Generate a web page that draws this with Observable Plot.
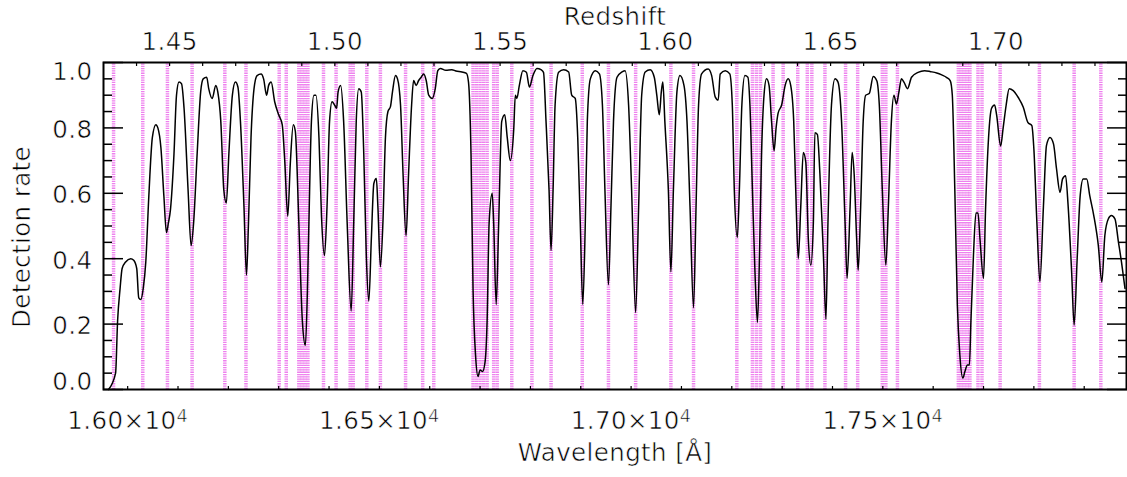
<!DOCTYPE html>
<html><head><meta charset="utf-8">
<script src="https://cdn.jsdelivr.net/npm/d3@7"></script>
<script src="https://cdn.jsdelivr.net/npm/@observablehq/plot@0.6"></script>
<style>
body{margin:0;background:#fff} svg{display:block}
#chart svg text{letter-spacing:0.4px; stroke:#fff; stroke-width:0.6px;}
</style>
</head><body><div id="chart"></div>
<script>
// Wavelength (Å) samples of the detection-rate curve
const wavelength = [
15962,15976,15980,15985,15989,15996,16006,16012,16018,16022,
16026,16031,16036,16042,16049,16056,16060,16066,16072,16077,
16081,16085,16092,16097,16102,16107,16112,16120,16126,16131,
16138,16145,16150,16157,16161,16168,16175,16179,16185,16191,
16196,16201,16208,16214,16219,16224,16231,16236,16240,16245,
16251,16257,16265,16270,16276,16280,16285,16292,16300,16307,
16312,16318,16323,16329,16333,16340,16347,16353,16357,16360,
16365,16370,16374,16380,16385,16391,16396,16401,16406,16411,
16415,16418,16423,16429,16436,16444,16449,16454,16459,16464,
16469,16474,16479,16484,16489,16494,16497,16502,16507,16512,
16517,16522,16526,16532,16536,16542,16547,16553,16558,16564,
16568,16573,16578,16583,16588,16593,16598,16605,16611,16616,
16621,16632,16644,16652,16664,16673,16677,16682,16686,16691,
16696,16700,16705,16710,16714,16718,16724,16727,16732,16737,
16743,16749,16754,16760,16767,16770,16773,16778,16785,16792,
16798,16805,16813,16821,16826,16831,16837,16841,16845,16849,
16856,16866,16876,16882,16889,16894,16899,16904,16909,16913,
16919,16929,16937,16943,16948,16955,16960,16965,16972,16982,
16988,16995,17001,17009,17015,17021,17028,17038,17046,17051,
17056,17060,17063,17067,17074,17079,17084,17091,17097,17105,
17111,17117,17124,17129,17134,17140,17153,17160,17167,17173,
17177,17187,17196,17201,17205,17211,17215,17220,17226,17232,
17236,17241,17246,17251,17255,17259,17264,17269,17274,17279,
17284,17288,17292,17299,17306,17312,17317,17323,17327,17332,
17337,17342,17347,17352,17357,17362,17365,17370,17375,17382,
17387,17391,17398,17405,17411,17418,17425,17429,17435,17439,
17443,17448,17451,17456,17461,17466,17473,17481,17488,17493,
17499,17506,17511,17517,17522,17527,17532,17537,17542,17549,
17557,17570,17583,17595,17607,17617,17627,17634,17638,17643,
17648,17653,17659,17663,17668,17672,17675,17680,17685,17689,
17693,17700,17704,17710,17716,17722,17726,17734,17739,17745,
17751,17759,17769,17779,17788,17796,17800,17806,17812,17819,
17825,17832,17839,17845,17852,17857,17863,17868,17875,17880,
17886,17892,17898,17905,17911,17919,17928,17935,17941,17948,
17954,17961,17968,17974,17981];

// Detection rate at each wavelength sample
const detectionRate = [
0.00,0.05,0.21,0.31,0.37,0.39,0.40,0.395,0.37,0.28,
0.275,0.31,0.39,0.59,0.77,0.81,0.80,0.74,0.59,0.48,
0.51,0.55,0.72,0.90,0.94,0.935,0.86,0.61,0.44,0.51,
0.72,0.91,0.95,0.955,0.92,0.89,0.93,0.91,0.82,0.61,
0.57,0.72,0.90,0.94,0.925,0.82,0.56,0.35,0.51,0.77,
0.92,0.96,0.965,0.95,0.90,0.93,0.94,0.88,0.84,0.81,
0.70,0.53,0.69,0.81,0.79,0.51,0.21,0.135,0.30,0.51,
0.82,0.90,0.90,0.77,0.53,0.41,0.56,0.82,0.88,0.87,
0.86,0.91,0.93,0.82,0.51,0.24,0.51,0.82,0.92,0.91,
0.72,0.41,0.27,0.46,0.63,0.645,0.56,0.375,0.51,0.77,
0.85,0.865,0.91,0.96,0.95,0.87,0.66,0.47,0.66,0.87,
0.945,0.93,0.945,0.955,0.965,0.945,0.90,0.89,0.92,0.975,
0.982,0.976,0.978,0.974,0.971,0.967,0.94,0.72,0.31,0.105,
0.04,0.06,0.055,0.085,0.21,0.51,0.60,0.51,0.26,0.51,
0.82,0.84,0.77,0.70,0.80,0.90,0.89,0.93,0.975,0.97,
0.925,0.96,0.982,0.978,0.97,0.82,0.61,0.425,0.61,0.87,
0.97,0.978,0.971,0.90,0.89,0.77,0.51,0.26,0.51,0.82,
0.95,0.975,0.965,0.87,0.61,0.32,0.56,0.82,0.955,0.971,
0.975,0.87,0.61,0.235,0.56,0.90,0.971,0.978,0.955,0.90,
0.84,0.91,0.94,0.82,0.61,0.36,0.61,0.91,0.96,0.93,
0.82,0.56,0.25,0.56,0.87,0.965,0.98,0.96,0.895,0.885,
0.965,0.975,0.965,0.87,0.61,0.465,0.61,0.87,0.96,0.955,
0.87,0.61,0.36,0.205,0.41,0.715,0.90,0.95,0.93,0.82,
0.73,0.80,0.845,0.87,0.93,0.95,0.93,0.82,0.61,0.40,
0.56,0.725,0.695,0.46,0.38,0.51,0.785,0.78,0.66,0.41,
0.215,0.51,0.87,0.95,0.94,0.82,0.51,0.34,0.56,0.725,
0.66,0.46,0.365,0.56,0.82,0.90,0.905,0.957,0.944,0.87,
0.61,0.38,0.56,0.82,0.90,0.873,0.91,0.95,0.94,0.92,
0.955,0.97,0.975,0.972,0.968,0.962,0.954,0.944,0.90,0.61,
0.26,0.105,0.035,0.055,0.075,0.075,0.21,0.41,0.54,0.54,
0.46,0.34,0.55,0.77,0.86,0.87,0.84,0.745,0.80,0.87,
0.92,0.914,0.893,0.863,0.817,0.807,0.736,0.51,0.33,0.56,
0.746,0.771,0.751,0.675,0.603,0.644,0.654,0.563,0.36,0.197,
0.40,0.593,0.644,0.644,0.593,0.532,0.441,0.329,0.471,0.522,
0.532,0.522,0.451,0.39,0.309];

// OH sky line wavelengths (Å)
const skyLines = [
15972,16030,16079,16128,16193,16235,16301,16315,16340,16346,
16352,16358,16389,16414,16442,16448,16475,16502,16552,16586,
16608,16686,16693,16700,16707,16714,16727,16734,16763,16803,
16841,16903,16955,17009,17079,17124,17210,17241,17249,17257,
17282,17302,17331,17350,17359,17385,17426,17450,17499,17506,
17529,17650,17656,17662,17668,17673,17689,17697,17733,17811,
17880,17933];

const xDomain = [15952, 17984];
const xMajorTicks = [16000, 16500, 17000, 17500];
const xMinorTicks = [16000,16100,16200,16300,16400,16500,16600,16700,16800,16900,
                     17000,17100,17200,17300,17400,17500,17600,17700,17800,17900];
const zMajorTicks = [1.45, 1.50, 1.55, 1.60, 1.65, 1.70];
const zMinorTicks = [1.44,1.45,1.46,1.47,1.48,1.49,1.50,1.51,1.52,1.53,1.54,1.55,1.56,1.57,1.58,
                     1.59,1.60,1.61,1.62,1.63,1.64,1.65,1.66,1.67,1.68,1.69,1.70,1.71,1.72,1.73];
const yMajorTicks = [0, 0.2, 0.4, 0.6, 0.8, 1.0];
const yMinorTicks = [0.05,0.1,0.15,0.25,0.3,0.35,0.45,0.5,0.55,0.65,0.7,0.75,0.85,0.9,0.95];
const restHalpha = 6564.61;

const curve = wavelength.map((w, i) => ({w, r: detectionRate[i]}));
const zToLambda = z => (1 + z) * restHalpha;
const FS = 24.5;

const chart = Plot.plot({
  width: 1127, height: 477,
  marginLeft: 103, marginRight: 1, marginTop: 62, marginBottom: 88,
  style: {fontFamily: "DejaVu Sans", fontSize: FS + "px", background: "#fff", color: "black"},
  x: {domain: xDomain},
  y: {domain: [0, 1]},
  marks: [
    Plot.ruleX(skyLines, {x: d => d, y1: 0, y2: 1, stroke: "#ee80ee", strokeWidth: 3.5, strokeDasharray: "1.3,1"}),
    Plot.line(curve, {x: "w", y: "r", stroke: "black", strokeWidth: 1.5, curve: "monotone-x"}),
    // bottom axis ticks (inward) and labels
    Plot.axisX(xMinorTicks, {anchor: "bottom", tickSize: 3, dy: -3, fill: "none", label: null, strokeWidth: 1.2}),
    Plot.axisX(xMajorTicks, {anchor: "bottom", tickSize: 0, tickPadding: 22, fontSize: FS, label: null,
      tickFormat: d => (d / 1e4).toFixed(2) + "×10⁴"}),
    // top redshift axis
    Plot.axisX(zMinorTicks.map(zToLambda), {anchor: "top", tickSize: 3, dy: 3, fill: "none", label: null, strokeWidth: 1.2}),
    Plot.axisX(zMajorTicks.map(zToLambda), {anchor: "top", tickSize: 0, tickPadding: 13, fontSize: FS, label: null,
      tickFormat: d => (d / restHalpha - 1).toFixed(2)}),
    // y ticks, left and right, inward
    Plot.axisY(yMajorTicks, {anchor: "left", tickSize: 20, dx: 20, fill: "none", label: null, strokeWidth: 1.5}),
    Plot.axisY(yMinorTicks, {anchor: "left", tickSize: 9, dx: 9, fill: "none", label: null, strokeWidth: 1.5}),
    Plot.axisY(yMajorTicks, {anchor: "right", tickSize: 20, dx: -20, fill: "none", label: null, strokeWidth: 1.5}),
    Plot.axisY(yMinorTicks, {anchor: "right", tickSize: 9, dx: -9, fill: "none", label: null, strokeWidth: 1.5}),
    // y labels
    Plot.axisY(yMajorTicks.slice(1, 5), {anchor: "left", tickSize: 0, tickPadding: 11, dy: 2, fontSize: FS, label: null, tickFormat: d => d.toFixed(1)}),
    Plot.axisY([yMajorTicks[0]], {anchor: "left", tickSize: 0, tickPadding: 11, dy: -7, fontSize: FS, label: null, tickFormat: d => d.toFixed(1)}),
    Plot.axisY([yMajorTicks[5]], {anchor: "left", tickSize: 0, tickPadding: 11, dy: 10, fontSize: FS, label: null, tickFormat: d => d.toFixed(1)}),
    // axis titles
    Plot.text(["Wavelength [Å]"], {frameAnchor: "bottom", lineAnchor: "bottom", dy: 71.5, fontSize: FS}),
    Plot.text(["Redshift"], {frameAnchor: "top", lineAnchor: "bottom", dy: -38, fontSize: FS}),
    Plot.text(["Detection rate"], {frameAnchor: "left", textAnchor: "middle", lineAnchor: "middle", rotate: -90, dx: -81, dy: 11, fontSize: FS}),
    Plot.frame({stroke: "black", strokeWidth: 2})
  ]
});

// render the exponent as a proper superscript
d3.select(chart).selectAll("text").each(function () {
  const s = this.textContent;
  if (s.endsWith("⁴")) {
    const base = s.slice(0, -1);
    const t = d3.select(this);
    t.text(null);
    t.append("tspan").text(base);
    t.append("tspan").attr("dy", "-0.42em").attr("font-size", "0.72em").text("4");
  }
});
document.getElementById("chart").appendChild(chart);
</script>
</body></html>
